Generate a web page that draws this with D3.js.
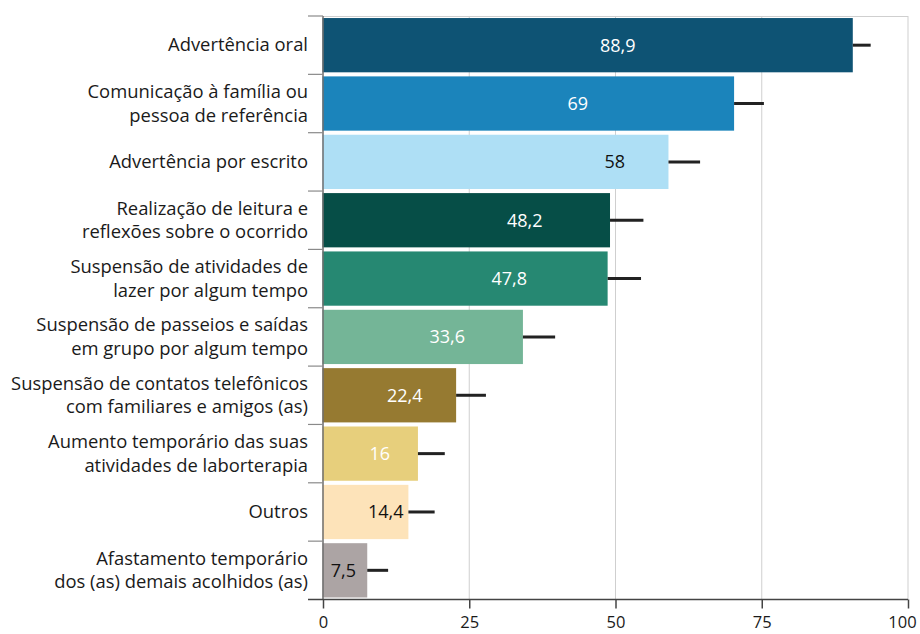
<!DOCTYPE html>
<html><head><meta charset="utf-8">
<script src="https://cdn.jsdelivr.net/npm/d3@7/dist/d3.min.js"></script>
<style>
html,body{margin:0;padding:0;background:#fff;}
svg{display:block;font-family:"Open Sans",sans-serif;}
</style></head>
<body><svg id="chart" width="920" height="634"></svg>
<script>
// ---- data ----
const categories = [
  ["Advertência oral"],
  ["Comunicação à família ou", "pessoa de referência"],
  ["Advertência por escrito"],
  ["Realização de leitura e", "reflexões sobre o ocorrido"],
  ["Suspensão de atividades de", "lazer por algum tempo"],
  ["Suspensão de passeios e saídas", "em grupo por algum tempo"],
  ["Suspensão de contatos telefônicos", "com familiares e amigos (as)"],
  ["Aumento temporário das suas", "atividades de laborterapia"],
  ["Outros"],
  ["Afastamento temporário", "dos (as) demais acolhidos (as)"]
];
const values = [88.9, 69, 58, 48.2, 47.8, 33.6, 22.4, 16, 14.4, 7.5];
const valueLabels = ["88,9", "69", "58", "48,2", "47,8", "33,6", "22,4", "16", "14,4", "7,5"];
const errorUpper = [3.0, 5.0, 5.3, 5.6, 5.6, 5.4, 5.0, 4.5, 4.4, 3.5];
const xTicks = [0, 25, 50, 75, 100];

(function () {
// ---- styling ----
const colors = ["#0e5374", "#1b84bb", "#aedff5", "#064e47", "#268872",
                "#74b597", "#967a31", "#e7cf7c", "#fde3b9", "#aca4a4"];
const labelColors = ["#fff", "#fff", "#111", "#fff", "#fff", "#fff", "#fff", "#fff", "#111", "#111"];
const labelAt = [49.5, 42.8, 49.0, 33.9, 31.3, 20.9, 13.8, 9.6, 10.6, 3.5];

const svg = d3.select("#chart");
const mLeft = 323, mRight = 908, mTop = 16, mBottom = 599.5;

const xAxisScale = d3.scaleLinear().domain([0, 100]).range([mLeft, mRight]);
const xBar = d3.scaleLinear().domain([0, 100]).range([mLeft - 0.5, mLeft - 0.5 + 596.5]);
const idx = d3.range(categories.length);
const y = d3.scaleBand().domain(idx).range([mTop, mBottom]).paddingInner(0.07).paddingOuter(0.035);
const step = y.step();

// grid
svg.append("g").selectAll("line").data(xTicks.filter(d => d > 0)).join("line")
  .attr("x1", d => xAxisScale(d)).attr("x2", d => xAxisScale(d))
  .attr("y1", mTop).attr("y2", mBottom)
  .attr("stroke", "#cfcfcf").attr("stroke-width", 1);
svg.append("line").attr("x1", mLeft).attr("x2", mRight).attr("y1", mTop + 0.5).attr("y2", mTop + 0.5)
  .attr("stroke", "#cfcfcf").attr("stroke-width", 1);

// bars
svg.append("g").selectAll("rect").data(idx).join("rect")
  .attr("x", xBar(0)).attr("y", i => y(i))
  .attr("width", i => xBar(values[i]) - xBar(0))
  .attr("height", y.bandwidth())
  .attr("fill", i => colors[i]);

// error bars
svg.append("g").selectAll("line").data(idx).join("line")
  .attr("x1", i => xBar(values[i])).attr("x2", i => xBar(values[i] + errorUpper[i]))
  .attr("y1", i => y(i) + y.bandwidth() / 2).attr("y2", i => y(i) + y.bandwidth() / 2)
  .attr("stroke", "#222").attr("stroke-width", 3);

// value labels
svg.append("g").selectAll("text").data(idx).join("text")
  .attr("x", i => xBar(labelAt[i]))
  .attr("y", i => y(i) + y.bandwidth() / 2)
  .attr("dy", "0.36em")
  .attr("text-anchor", "middle")
  .attr("font-size", 18)
  .attr("fill", i => labelColors[i])
  .text(i => valueLabels[i]);

// y axis line and ticks
svg.append("line").attr("x1", mLeft).attr("x2", mLeft).attr("y1", mTop).attr("y2", mBottom)
  .attr("stroke", "#6e6e6e").attr("stroke-width", 1.5);
svg.append("g").selectAll("line").data(d3.range(categories.length)).join("line")
  .attr("x1", mLeft - 15).attr("x2", mLeft)
  .attr("y1", i => mTop + i * step).attr("y2", i => mTop + i * step)
  .attr("stroke", "#8a8a8a").attr("stroke-width", 1.2);

// category labels
const cg = svg.append("g").selectAll("text").data(idx).join("text")
  .attr("text-anchor", "end")
  .attr("font-size", 18.4)
  .attr("fill", "#1a1a1a");
cg.each(function(i) {
  const lines = categories[i];
  const cy = y(i) + y.bandwidth() / 2;
  const lh = 23.5;
  const t = d3.select(this);
  lines.forEach((ln, k) => {
    t.append("tspan").attr("x", mLeft - 15)
      .attr("y", cy + (k - (lines.length - 1) / 2) * lh)
      .attr("dy", "0.34em").text(ln);
  });
});

// x axis
const xa = svg.append("g").attr("transform", `translate(0,${mBottom})`)
  .call(d3.axisBottom(xAxisScale).tickValues(xTicks).tickFormat(d3.format("d")).tickSize(9).tickSizeOuter(0));
xa.select(".domain").remove();
xa.selectAll(".tick line").attr("stroke", "#444").attr("stroke-width", 1.5);
xa.selectAll(".tick text").attr("font-size", 16.5).attr("fill", "#1a1a1a")
  .attr("font-family", "Open Sans, sans-serif").attr("y", 13).attr("dy", "0.95em")
  .attr("dx", d => d === 100 ? -6 : 0);
svg.append("line").attr("x1", mLeft - 15).attr("x2", mRight).attr("y1", mBottom).attr("y2", mBottom)
  .attr("stroke", "#444").attr("stroke-width", 1.5);
})();
</script></body></html>
